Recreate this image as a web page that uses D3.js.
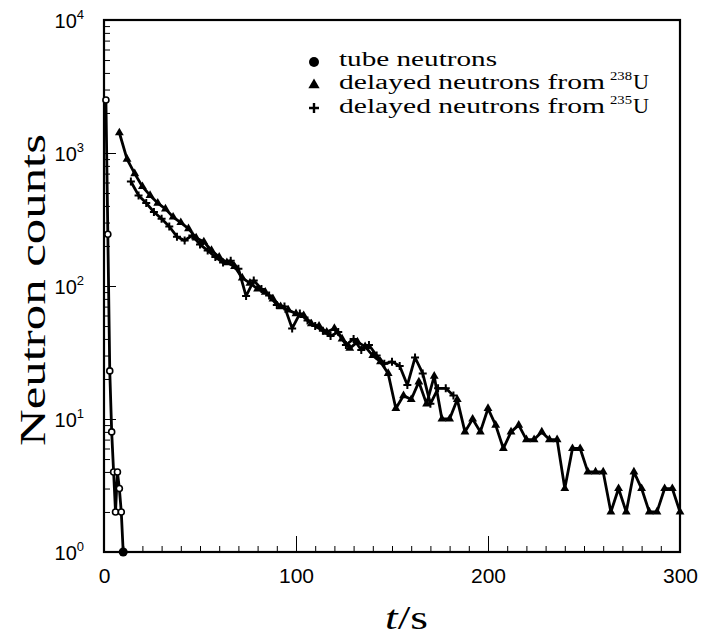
<!DOCTYPE html>
<html>
<head>
<meta charset="utf-8">
<script src="https://cdn.jsdelivr.net/npm/d3@7"></script>
<style>
  body { margin: 0; background: #fff; }
  svg { display: block; }
</style>
</head>
<body>
<div id="chart"></div>
<script>
// data (counts per bin)
const tubeT = [1, 2, 3, 4, 5, 6, 7, 8, 9, 10];
const tubeN = [2500, 245, 23, 8, 4, 2, 4, 3, 2, 1];

const u238T = [8, 12, 16, 20, 24, 28, 32, 36, 40, 44, 48, 52, 56, 60, 64, 68, 72, 76, 80, 84,
  88, 92, 96, 100, 104, 108, 112, 116, 120, 124, 128, 132, 136, 140, 144, 148,
  152, 156, 160, 164, 168, 172, 176, 180, 184, 188, 192, 196, 200, 204, 208, 212, 216, 220,
  224, 228, 232, 236, 240, 244, 248, 252, 256, 260, 264, 268, 272, 276, 280, 284, 288, 292, 296, 300];
const u238N = [1420, 900, 700, 560, 480, 420, 380, 330, 300, 270, 230, 215, 185, 165, 150, 140, 115, 105, 95, 90,
  80, 70, 66, 62, 60, 52, 50, 45, 48, 40, 34, 38, 35, 30, 27, 22,
  12, 15, 14, 19, 13, 21, 10, 10, 14, 8, 10, 8, 12, 9, 6, 8, 9, 7,
  7, 8, 7, 7, 3, 6, 6, 4, 4, 4, 2, 3, 2, 4, 3, 2, 2, 3, 3, 2];

const u235T = [14, 18, 22, 26, 30, 34, 38, 42, 46, 50, 54, 58, 62, 66, 70, 74, 78, 82, 86, 90,
  94, 98, 102, 106, 110, 114, 118, 122, 126, 130, 134, 138, 142, 146, 150, 154, 158, 162, 166, 170,
  174, 178, 182];
const u235N = [610, 480, 420, 360, 320, 280, 235, 220, 240, 205, 185, 165, 150, 155, 135, 84, 110, 95, 85, 72,
  70, 48, 62, 55, 50, 46, 42, 45, 36, 40, 33, 36, 30, 26, 27, 25, 18, 29, 22, 13,
  17, 17, 15];

const xMajor = [0, 100, 200, 300];
const yMajor = [1, 10, 100, 1000, 10000];
const legendLabels = ["tube neutrons", "delayed neutrons from ", "delayed neutrons from "];
const legendIso = [null, "238", "235"];

const W = 718, H = 639;
const margin = {top: 20, right: 38, bottom: 87, left: 104};

const svg = d3.select("#chart").append("svg")
    .attr("width", W)
    .attr("height", H);

const x = d3.scaleLinear().domain([0, 300]).range([margin.left, W - margin.right]);
const y = d3.scaleLog().domain([1, 10000]).range([H - margin.bottom, margin.top]);

const sans = "'Liberation Sans', Arial, sans-serif";
const serif = "'Liberation Serif', 'DejaVu Serif', serif";

// axes: ticks drawn inward
const xMinor = d3.range(0, 301, 10).filter(d => d % 100 !== 0);
svg.append("g")
    .attr("transform", `translate(0,${y(1)})`)
    .call(d3.axisBottom(x).tickValues(xMinor).tickSizeInner(-6).tickSizeOuter(0).tickFormat(""))
    .call(g => g.select(".domain").remove());

svg.append("g")
    .attr("transform", `translate(0,${y(1)})`)
    .call(d3.axisBottom(x).tickValues(xMajor).tickSizeInner(-16).tickSizeOuter(0).tickPadding(16))
    .call(g => g.select(".domain").remove())
    .call(g => g.selectAll("text").attr("font-family", sans).attr("font-size", 21).attr("fill", "#000"));

let yMinor = [];
yMajor.slice(0, -1).forEach(d => { for (let k = 2; k < 10; k++) yMinor.push(d * k); });
svg.append("g")
    .attr("transform", `translate(${x(0)},0)`)
    .call(d3.axisLeft(y).tickValues(yMinor).tickSizeInner(-6).tickSizeOuter(0).tickFormat(""))
    .call(g => g.select(".domain").remove());

svg.append("g")
    .attr("transform", `translate(${x(0)},0)`)
    .call(d3.axisLeft(y).tickValues(yMajor).tickSizeInner(-12).tickSizeOuter(0).tickFormat(""))
    .call(g => g.select(".domain").remove());

// 10^n labels
yMajor.forEach(d => {
    const t = svg.append("text")
        .attr("x", 84)
        .attr("y", y(d) + 8)
        .attr("text-anchor", "end")
        .attr("font-family", sans)
        .attr("font-size", 20);
    t.append("tspan").text("10");
    t.append("tspan").attr("font-size", 13).attr("dy", -9).text(Math.round(Math.log10(d)));
});

// frame
svg.append("rect")
    .attr("x", x(0)).attr("y", y(10000))
    .attr("width", x(300) - x(0)).attr("height", y(1) - y(10000))
    .attr("fill", "none").attr("stroke", "#000").attr("stroke-width", 2.2);

// axis titles
svg.append("text")
    .attr("transform", `translate(45,${(y(1) + y(10000)) / 2 + 4}) rotate(-90)`)
    .attr("text-anchor", "middle")
    .attr("font-family", serif)
    .attr("font-size", 36)
    .attr("textLength", 312)
    .attr("lengthAdjust", "spacingAndGlyphs")
    .text("Neutron counts");

const xt = svg.append("text")
    .attr("x", 385).attr("y", 629)
    .attr("font-family", serif)
    .attr("font-size", 34)
    .attr("textLength", 43)
    .attr("lengthAdjust", "spacingAndGlyphs");
xt.append("tspan").attr("font-style", "italic").text("t");
xt.append("tspan").text("/s");

// series
const line = d3.line().x(d => x(d[0])).y(d => y(d[1]));
const zip = (a, b) => a.map((d, i) => [d, b[i]]);

const tube = zip(tubeT, tubeN);
const s238 = zip(u238T, u238N);
const s235 = zip(u235T, u235N);

[s238, s235, tube].forEach(s => {
    svg.append("path")
        .datum(s)
        .attr("d", line)
        .attr("fill", "none")
        .attr("stroke", "#000")
        .attr("stroke-width", 2.8)
        .attr("stroke-linejoin", "round");
});

const tri = d3.symbol(d3.symbolTriangle, 34);
svg.append("g").selectAll("path")
    .data(s238)
    .join("path")
    .attr("transform", d => `translate(${x(d[0])},${y(d[1])})`)
    .attr("d", tri)
    .attr("fill", "#000");

svg.append("g").selectAll("path")
    .data(s235)
    .join("path")
    .attr("transform", d => `translate(${x(d[0])},${y(d[1])})`)
    .attr("d", "M-4,0H4M0,-4V4")
    .attr("stroke", "#000")
    .attr("stroke-width", 2);

svg.append("g").selectAll("circle")
    .data(tube.slice(0, -1))
    .join("circle")
    .attr("cx", d => x(d[0]))
    .attr("cy", d => y(d[1]))
    .attr("r", 3)
    .attr("fill", "#fff")
    .attr("stroke", "#000")
    .attr("stroke-width", 1.6);

const last = tube[tube.length - 1];
svg.append("circle")
    .attr("cx", x(last[0])).attr("cy", y(last[1]))
    .attr("r", 4.5).attr("fill", "#000");

// legend
const leg = svg.append("g").attr("font-family", serif).attr("font-size", 20);
const lx = 314, tx = 339;
const rowY = [66, 89, 113];

leg.append("circle").attr("cx", lx).attr("cy", rowY[0] - 4).attr("r", 5).attr("fill", "#000");
leg.append("path").attr("transform", `translate(${lx},${rowY[1] - 4})`).attr("d", d3.symbol(d3.symbolTriangle, 55)).attr("fill", "#000");
leg.append("path").attr("transform", `translate(${lx},${rowY[2] - 5})`).attr("d", "M-5,0H5M0,-5V5").attr("stroke", "#000").attr("stroke-width", 2.4);

legendLabels.forEach((lab, i) => {
    leg.append("text")
        .attr("x", tx).attr("y", rowY[i])
        .attr("textLength", i === 0 ? 158 : 266)
        .attr("lengthAdjust", "spacingAndGlyphs")
        .text(lab);
    if (legendIso[i]) {
        leg.append("text")
            .attr("x", 610).attr("y", rowY[i] - 9)
            .attr("font-size", 13)
            .attr("textLength", 22)
            .attr("lengthAdjust", "spacingAndGlyphs")
            .text(legendIso[i]);
        leg.append("text")
            .attr("x", 633).attr("y", rowY[i])
            .attr("textLength", 16)
            .attr("lengthAdjust", "spacingAndGlyphs")
            .text("U");
    }
});
</script>
</body>
</html>
